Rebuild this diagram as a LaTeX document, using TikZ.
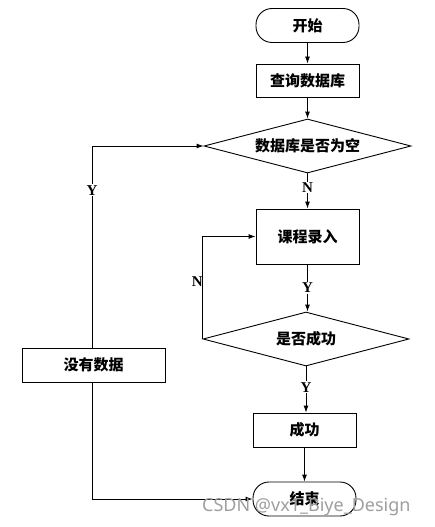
\documentclass[tikz,border=0pt]{standalone}
\usepackage{fontspec}
\setmainfont{Liberation Serif}
\newfontfamily\cjk{Noto Sans CJK SC}
\newfontfamily\wmfont{Noto Sans}
\usetikzlibrary{shapes.geometric,arrows.meta}
\tikzset{
  box/.style={draw, line width=0.9pt, minimum width=103pt, minimum height=34pt, inner sep=0pt,
    font=\cjk\bfseries\fontsize{15}{15}\selectfont},
  term/.style={box, rounded corners=16pt},
  dec/.style={draw, diamond, aspect=3.8, line width=0.9pt, inner sep=0pt,
    minimum width=207pt, minimum height=54pt, font=\cjk\bfseries\fontsize{15}{15}\selectfont},
  arr/.style={-{Latex[length=7pt,width=5pt]}, line width=0.9pt},
  lbl/.style={font=\bfseries\fontsize{15}{15}\selectfont, fill=white, inner sep=1pt},
}
\begin{document}
\begin{tikzpicture}[x=1pt,y=-1pt]
\useasboundingbox[fill=white] (0,0) rectangle (434,527);
\node[term] (start) at (307.5,25.5) {开始};
\node[box, minimum height=33pt] (query) at (307.5,80.5) {查询数据库};
\node[dec] (d1) at (307.5,146) {数据库是否为空};
\node[box, minimum height=55pt] (input) at (307.5,236.5) {课程录入};
\node[dec, minimum width=206pt] (d2) at (306,339) {是否成功};
\node[box] (succ) at (304.5,430) {成功};
\node[term] (end) at (304.5,499) {结束};
\node[box, minimum width=143pt] (nodata) at (93.5,365) {没有数据};

\draw[arr] (start) -- (query);
\draw[arr] (query) -- (d1);
\draw[arr] (d1.south) -- node[lbl, pos=0.4] (n1) {N} (d1.south |- input.north);
\draw[arr] (input.south) -- node[lbl, pos=0.5] (y1) {Y} (input.south |- d2.north);
\draw[arr] (d2.west) -- (d2.west |- input.west) -- (input.west);
\node[font=\bfseries\fontsize{15}{15}\selectfont, inner sep=0pt, anchor=east] (n2) at (203,282) {N};
\draw[arr] (d2.south) -- node[lbl, pos=0.45] (y2) {Y} (d2.south |- succ.north);
\draw[arr] (succ) -- (end);
\draw[arr] (nodata.north -| 92,0) -- node[lbl, pos=0.78] (y3) {Y} (92,146) -- (d1.west);
\draw[arr] (nodata.south -| 92,0) -- (92,499) -- (end.west);

\node[text=gray!75, font=\wmfont\fontsize{18}{18}\selectfont, anchor=west, inner sep=0pt] (wm) at (202,507) {CSDN @vx1\_Biye\_Design};
\end{tikzpicture}
\end{document}
